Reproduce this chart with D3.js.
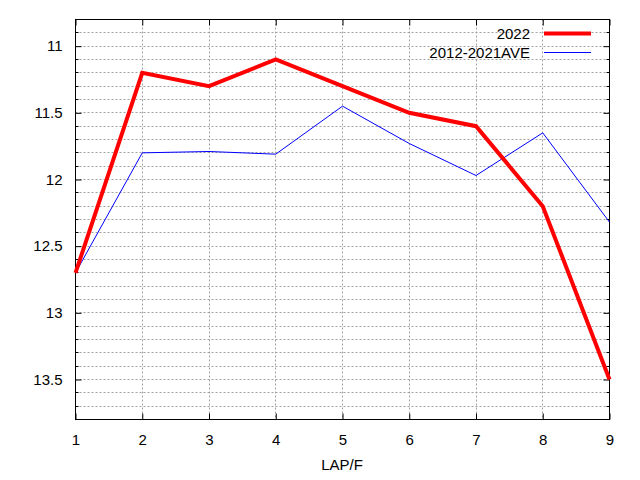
<!DOCTYPE html>
<html>
<head>
<meta charset="utf-8">
<script src="https://cdn.jsdelivr.net/npm/d3@7"></script>
<style>
  body { margin: 0; background: #fff; }
  text { font-family: "Liberation Sans", Arial, sans-serif; font-size: 15px; fill: #000; }
</style>
</head>
<body>
<div id="chart"></div>
<script>
var svgWidth = 640;
var svgHeight = 480;

var margin = { top: 19.5, right: 30.5, bottom: 60.5, left: 75.5 };
var width = 609.5 - margin.left;
var height = 419.5 - margin.top;

// data
var laps = [1, 2, 3, 4, 5, 6, 7, 8, 9];
var year2022 = [12.7, 11.2, 11.3, 11.1, 11.3, 11.5, 11.6, 12.2, 13.5];
var average = [12.7, 11.8, 11.79, 11.81, 11.45, 11.73, 11.97, 11.65, 12.32];
var seriesNames = ["2022", "2012-2021AVE"];
var yTickValues = [11, 11.5, 12, 12.5, 13, 13.5];
var yDomain = [10.8, 13.8];

var svg = d3.select("#chart")
  .append("svg")
  .attr("width", svgWidth)
  .attr("height", svgHeight);

var chartGroup = svg.append("g")
  .attr("transform", `translate(${margin.left}, ${margin.top})`);

var xScale = d3.scaleLinear().domain([1, 9]).range([0, width]);
// inverted y: smaller times at the top
var yScale = d3.scaleLinear().domain(yDomain).range([0, height]);

var minorY = d3.range(109, 138).map(d => d / 10);

// grid
var gridGroup = chartGroup.append("g");
gridGroup.selectAll(".hgrid")
  .data(minorY)
  .enter()
  .append("line")
  .attr("x1", 0)
  .attr("x2", width)
  .attr("y1", d => Math.round(yScale(d)))
  .attr("y2", d => Math.round(yScale(d)))
  .attr("stroke", "#a0a0a0")
  .attr("stroke-width", 1)
  .attr("stroke-dasharray", "2,2");

gridGroup.selectAll(".vgrid")
  .data(laps.slice(1, -1))
  .enter()
  .append("line")
  .attr("x1", d => Math.round(xScale(d)))
  .attr("x2", d => Math.round(xScale(d)))
  .attr("y1", 0)
  .attr("y2", height)
  .attr("stroke", "#a0a0a0")
  .attr("stroke-width", 1)
  .attr("stroke-dasharray", "2,2");

// axes: ticks pointing inwards, mirrored
var leftAxis = d3.axisLeft(yScale).tickValues(yTickValues).tickSize(-6).tickPadding(13).tickFormat(d3.format("~g"));
var rightAxis = d3.axisRight(yScale).tickValues(yTickValues).tickSize(-6).tickFormat("");
var bottomAxis = d3.axisBottom(xScale).tickValues(laps).tickSize(-6).tickPadding(15).tickFormat(d3.format("d"));
var topAxis = d3.axisTop(xScale).tickValues(laps).tickSize(-6).tickFormat("");

function styleAxis(g) {
  g.select(".domain").remove();
  g.selectAll("line").attr("stroke", "#000");
  g.selectAll("text").attr("font-size", 15).attr("font-family", "Liberation Sans, Arial, sans-serif");
}

chartGroup.append("g").call(leftAxis).call(styleAxis);
chartGroup.append("g").attr("transform", `translate(${width}, 0)`).call(rightAxis).call(styleAxis);
chartGroup.append("g").attr("transform", `translate(0, ${height})`).call(bottomAxis).call(styleAxis);
chartGroup.append("g").call(topAxis).call(styleAxis);

// minor y ticks
var minorTicks = minorY.filter(d => yTickValues.indexOf(d) < 0);
chartGroup.selectAll(".minorL")
  .data(minorTicks)
  .enter()
  .append("line")
  .attr("x1", 0).attr("x2", 3)
  .attr("y1", d => Math.round(yScale(d))).attr("y2", d => Math.round(yScale(d)))
  .attr("stroke", "#000");
chartGroup.selectAll(".minorR")
  .data(minorTicks)
  .enter()
  .append("line")
  .attr("x1", width - 3).attr("x2", width)
  .attr("y1", d => Math.round(yScale(d))).attr("y2", d => Math.round(yScale(d)))
  .attr("stroke", "#000");

// frame
chartGroup.append("rect")
  .attr("x", 0).attr("y", 0)
  .attr("width", width).attr("height", height)
  .attr("fill", "none")
  .attr("stroke", "#000")
  .attr("stroke-width", 1);

// lines
var line = d3.line()
  .x((d, i) => xScale(laps[i]))
  .y(d => yScale(d));

chartGroup.append("path")
  .datum(average)
  .attr("d", line)
  .attr("fill", "none")
  .attr("stroke", "#0000ff")
  .attr("stroke-width", 1);

chartGroup.append("path")
  .datum(year2022)
  .attr("d", line)
  .attr("fill", "none")
  .attr("stroke", "#ff0000")
  .attr("stroke-width", 4);

// legend
var legend = svg.append("g");
var legendColors = ["#ff0000", "#0000ff"];
var legendWidths = [4, 1];
seriesNames.forEach(function(name, i) {
  var y = 33.5 + i * 19;
  legend.append("text")
    .attr("x", 530)
    .attr("y", y + 5)
    .attr("text-anchor", "end")
    .text(name);
  legend.append("line")
    .attr("x1", 544).attr("x2", 591)
    .attr("y1", y).attr("y2", y)
    .attr("stroke", legendColors[i])
    .attr("stroke-width", legendWidths[i]);
});

// x label
svg.append("text")
  .attr("x", 342)
  .attr("y", 470)
  .attr("text-anchor", "middle")
  .text("LAP/F");
</script>
</body>
</html>
